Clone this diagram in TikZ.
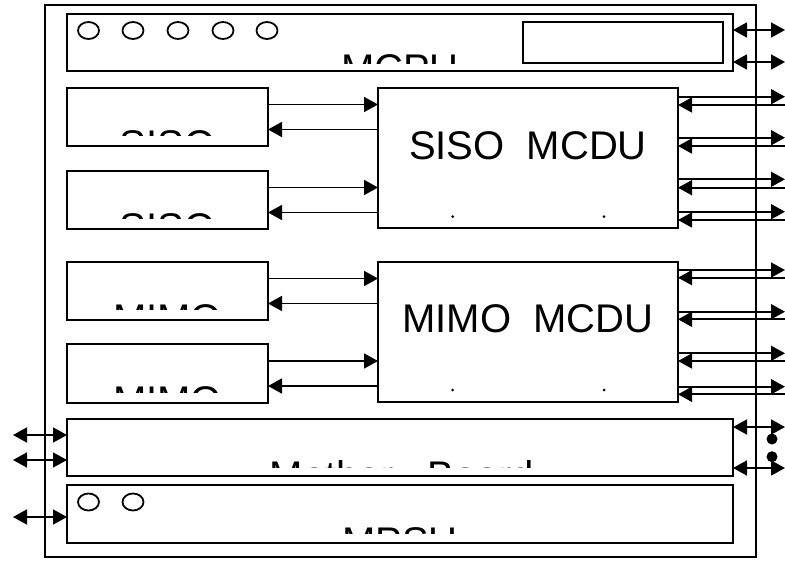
\documentclass[tikz,border=0pt]{standalone}
\usepackage{fontspec}
\setmainfont{Liberation Sans}
\usetikzlibrary{arrows.meta,shapes.geometric}
\begin{document}
\begin{tikzpicture}[x=1pt,y=-1pt,
  box/.style={draw, line width=2.3pt, anchor=north west, inner sep=0pt, outer sep=0pt},
  lbl/.style={anchor=base, inner sep=0pt, font=\fontsize{40}{40}\selectfont},
  led/.style={draw, ellipse, line width=1.8pt, minimum width=21pt, minimum height=17pt, inner sep=0pt},
  dot/.style={circle, fill, inner sep=0pt, minimum size=11pt},
  tick/.style={circle, fill, inner sep=0pt, minimum size=3pt},
  conn/.style={line width=1.8pt, -{Triangle[length=14pt,width=15pt]}},
  bi/.style={line width=1.8pt, {Triangle[length=14pt,width=15pt]}-{Triangle[length=14pt,width=15pt]}}]
\useasboundingbox (0,0) rectangle (785,562);
% frame
\node[box, minimum width=711pt, minimum height=552pt] (frame) at (45,5) {};
% boxes
\node[box, minimum width=666pt, minimum height=57pt] (mcpu) at (67,14) {};
\node[box, minimum width=200pt, minimum height=41pt] (disp) at (523,22) {};
\node[box, minimum width=201pt, minimum height=58pt] (siso1) at (67,88) {};
\node[box, minimum width=201pt, minimum height=58pt] (siso2) at (67,171) {};
\node[box, minimum width=300pt, minimum height=140pt] (smcdu) at (378,88) {};
\node[box, minimum width=201pt, minimum height=58pt] (mimo1) at (67,262) {};
\node[box, minimum width=201pt, minimum height=59pt] (mimo2) at (67,344) {};
\node[box, minimum width=300pt, minimum height=140pt] (mmcdu) at (378,262) {};
\node[box, minimum width=666pt, minimum height=57pt] (mb) at (67,419) {};
\node[box, minimum width=666pt, minimum height=58pt] (mpsu) at (67,485) {};
% leds
\node[led] (l1) at (88.5,30.5) {};
\node[led] (l2) at (133,30.5) {};
\node[led] (l3) at (178,30.5) {};
\node[led] (l4) at (223,30.5) {};
\node[led] (l5) at (267,30.5) {};
\node[led] (p1) at (88.5,502) {};
\node[led] (p2) at (133,502) {};
% clipped labels
\begin{scope}\clip (mcpu.north west) rectangle ([yshift=8pt]mcpu.south east);
\node[lbl] (tmcpu) at (400,82) {MCPU};\end{scope}
\begin{scope}\clip (siso1.north west) rectangle ([yshift=11pt]siso1.south east);
\node[lbl] (tsiso1) at (167.5,158) {SISO};\end{scope}
\begin{scope}\clip (siso2.north west) rectangle ([yshift=11pt]siso2.south east);
\node[lbl] (tsiso2) at (167.5,241) {SISO};\end{scope}
\begin{scope}\clip (mimo1.north west) rectangle ([yshift=11pt]mimo1.south east);
\node[lbl] (tmimo1) at (167.5,332) {MIMO};\end{scope}
\begin{scope}\clip (mimo2.north west) rectangle ([yshift=11pt]mimo2.south east);
\node[lbl] (tmimo2) at (167.5,414) {MIMO};\end{scope}
\begin{scope}\clip (mb.north west) rectangle ([yshift=9pt]mb.south east);
\node[lbl] (tmb) at (402,489) {Mother\ \ \ Board};\end{scope}
\begin{scope}\clip (mpsu.north west) rectangle ([yshift=10pt]mpsu.south east);
\node[lbl] (tmpsu) at (400,555) {MPSU};\end{scope}
% MCDU labels
\node[lbl] (tsm) at (528,159) {SISO\ \ MCDU};
\node[lbl] (tmm) at (528,332) {MIMO\ \ MCDU};
\node[tick] (k1) at (452.7,216.7) {};
\node[tick] (k2) at (604,216.7) {};
\node[tick] (k3) at (452.7,390) {};
\node[tick] (k4) at (604,390) {};
% SISO / MIMO to MCDU
\draw[conn] ([yshift=12.5pt]siso1.east) -- ([yshift=12.5pt]siso1.east -| smcdu.west);
\draw[conn] ([yshift=-12.5pt]siso1.east -| smcdu.west) -- ([yshift=-12.5pt]siso1.east);
\draw[conn] ([yshift=12.5pt]siso2.east) -- ([yshift=12.5pt]siso2.east -| smcdu.west);
\draw[conn] ([yshift=-12.5pt]siso2.east -| smcdu.west) -- ([yshift=-12.5pt]siso2.east);
\draw[conn] ([yshift=12.5pt]mimo1.east) -- ([yshift=12.5pt]mimo1.east -| mmcdu.west);
\draw[conn] ([yshift=-12.5pt]mimo1.east -| mmcdu.west) -- ([yshift=-12.5pt]mimo1.east);
\draw[conn] ([yshift=12.5pt]mimo2.east) -- ([yshift=12.5pt]mimo2.east -| mmcdu.west);
\draw[conn] ([yshift=-12.5pt]mimo2.east -| mmcdu.west) -- ([yshift=-12.5pt]mimo2.east);
% MCDU right side
\foreach \n/\a/\b in {1/96.7/105, 2/137.7/146, 3/179.3/187.7, 4/211.7/220}{
  \coordinate (sa\n) at (785,\a); \coordinate (sb\n) at (785,\b);
  \draw[conn] (smcdu.east |- sa\n) -- (sa\n);
  \draw[conn] (sb\n) -- (smcdu.east |- sb\n);
}
\foreach \n/\a/\b in {1/270/277.7, 2/311.7/319.3, 3/353.3/361, 4/386.7/394.3}{
  \coordinate (ma\n) at (785,\a); \coordinate (mb\n) at (785,\b);
  \draw[conn] (mmcdu.east |- ma\n) -- (ma\n);
  \draw[conn] (mb\n) -- (mmcdu.east |- mb\n);
}
% MCPU right
\coordinate (cr1) at (785,30); \coordinate (cr2) at (785,62);
\draw[bi] (mcpu.east |- cr1) -- (cr1);
\draw[bi] (mcpu.east |- cr2) -- (cr2);
% Mother board
\coordinate (ml1) at (13,435); \coordinate (ml2) at (13,460);
\draw[bi] (ml1) -- (mb.west |- ml1);
\draw[bi] (ml2) -- (mb.west |- ml2);
\coordinate (mr1) at (785,427); \coordinate (mr2) at (785,468);
\draw[bi] (mb.east |- mr1) -- (mr1);
\draw[bi] (mb.east |- mr2) -- (mr2);
\node[dot] (d1) at (772,439) {};
\node[dot] (d2) at (772,456.7) {};
% MPSU
\coordinate (pl1) at (13,517);
\draw[bi] (pl1) -- (mpsu.west |- pl1);
\end{tikzpicture}
\end{document}
